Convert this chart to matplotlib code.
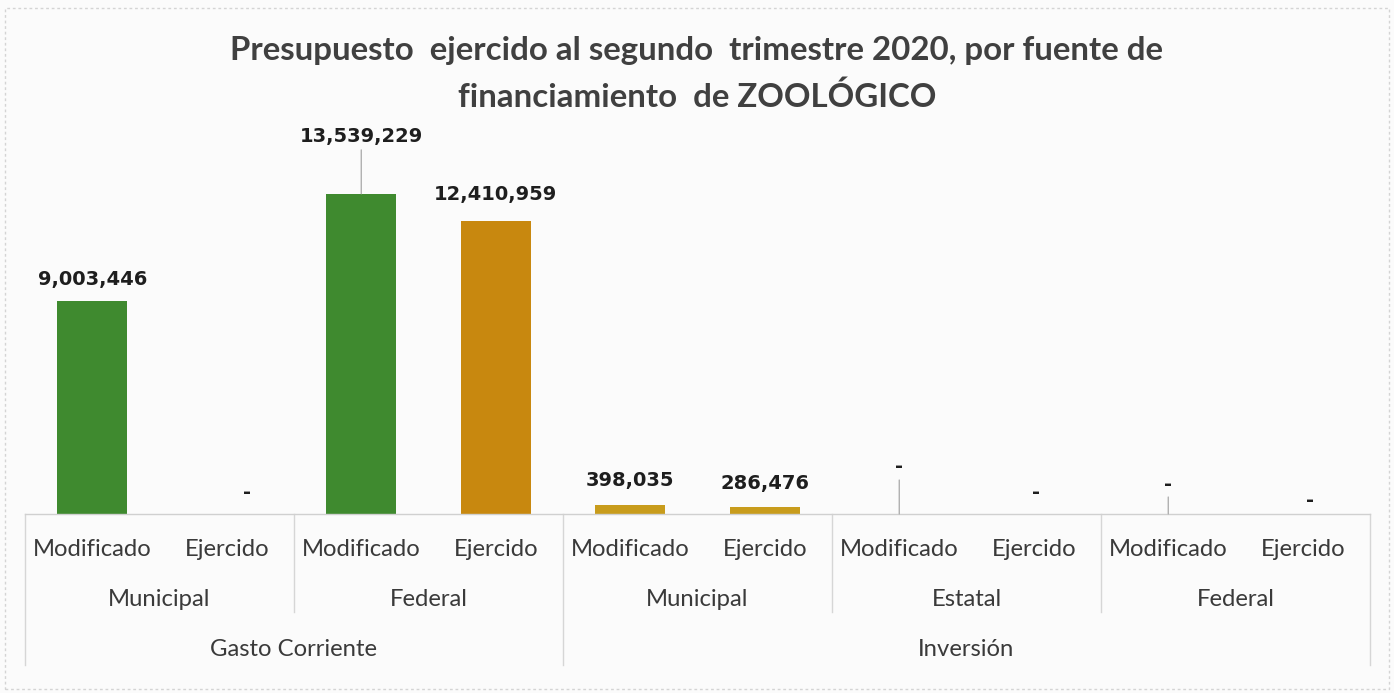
import matplotlib
matplotlib.use("Agg")
import matplotlib.pyplot as plt
from matplotlib.transforms import blended_transform_factory
from matplotlib.patches import Rectangle

# ---- data ----
level1 = ["Modificado", "Ejercido"] * 5
level2 = ["Municipal", "Federal", "Municipal", "Estatal", "Federal"]
level3 = ["Gasto Corriente", "Inversión"]
level2_span = [2, 2, 2, 2, 2]          # categories per level-2 group
level3_span = [2, 3]                   # level-2 groups per level-3 group
values = [9003446, 0, 13539229, 12410959, 398035, 286476, 0, 0, 0, 0]
title = "Presupuesto  ejercido al segundo  trimestre 2020, por fuente de\nfinanciamiento  de ZOOLÓGICO"

# ---- styles ----
GREEN = "#3f8a2f"
ORANGE = "#c8880f"
GOLD = "#c89c1c"
bar_colors = [GREEN, GREEN, GREEN, ORANGE, GOLD, GOLD, GREEN, ORANGE, GREEN, ORANGE]
# label offsets in pixels (dx, dy) relative to bar top
label_offsets = [(0, 22), (20, 22), (0, 57), (0, 26), (0, 24), (0, 24), (0, 47), (2, 22), (0, 30), (7, 14)]
leader = [False, False, True, False, False, False, True, False, True, False]

W, H = 1394, 693
fig = plt.figure(figsize=(W / 100, H / 100), dpi=100)
fig.patch.set_facecolor("#fbfbfb")
fig.patches.append(Rectangle((5 / W, 4 / H), 1 - 10 / W, 1 - 12 / H, transform=fig.transFigure,
                             fill=False, edgecolor="#d4d4d4", lw=1.0, ls=(0, (2, 2))))

ax_left, ax_right = 25 / W, 1370 / W
ax_bottom = (H - 514) / H
ax_h = 383 / H
ax = fig.add_axes([ax_left, ax_bottom, ax_right - ax_left, ax_h])
ax.set_facecolor("none")

n = len(values)
x = list(range(n))
ax.bar(x, values, width=0.52, color=bar_colors, zorder=2)
ax.set_xlim(-0.5, n - 0.5)
ax.set_ylim(0, 383 / 2.3645e-5)
for s in ["top", "right", "left"]:
    ax.spines[s].set_visible(False)
ax.spines["bottom"].set_color("#d0d0d0")
ax.spines["bottom"].set_linewidth(1.0)
ax.set_yticks([])
ax.set_xticks([])

trans = blended_transform_factory(ax.transData, ax.transAxes)
px = 1 / 383.0  # one pixel in axes fraction (vertical)

cat_font = dict(family="Lato", fontsize=17.2, color="#3a3a3a")
# level 1 labels
for i, lab in enumerate(level1):
    ax.text(i, -35 * px, lab, transform=trans, ha="center", va="center", **cat_font)
# level 2 labels
pos = 0
for lab, span in zip(level2, level2_span):
    ax.text(pos + (span - 1) / 2, -85 * px, lab, transform=trans, ha="center", va="center", **cat_font)
    pos += span
# level 3 labels
pos = 0
gi = 0
for lab, gspan in zip(level3, level3_span):
    cats = sum(level2_span[gi:gi + gspan])
    ax.text(pos + (cats - 1) / 2, -135 * px, lab, transform=trans, ha="center", va="center", **cat_font)
    pos += cats
    gi += gspan

# separators
line_kw = dict(color="#d6d6d6", lw=1.0, transform=trans, clip_on=False)
boundaries2 = []
pos = 0
for span in level2_span:
    pos += span
    boundaries2.append(pos - 0.5)
boundaries3 = [-0.5]
pos = 0
gi = 0
for gspan in level3_span:
    pos += sum(level2_span[gi:gi + gspan])
    gi += gspan
    boundaries3.append(pos - 0.5)
for b in boundaries2:
    if b not in boundaries3:
        ax.plot([b, b], [0, -98 * px], **line_kw)
for b in boundaries3:
    ax.plot([b, b], [0, -151 * px], **line_kw)

# data labels
for i, v in enumerate(values):
    txt = f"{v:,}" if v > 0 else "-"
    dx, dy = label_offsets[i]
    ax.annotate(txt, xy=(i, v), xytext=(dx * 0.72, dy * 0.72), textcoords="offset points",
                ha="center", va="center", family="DejaVu Sans", fontweight="bold",
                fontsize=14.0, color="#1e1e1e", zorder=3)
    if leader[i]:
        ax.annotate("", xy=(i, v), xytext=(dx * 0.72, (dy - 13) * 0.72), textcoords="offset points",
                    arrowprops=dict(arrowstyle="-", color="#a8a8a8", lw=0.9, shrinkA=0, shrinkB=0))

fig.text(0.5, (H - 74) / H, title, ha="center", va="center", family="Lato", fontweight="bold",
         fontsize=23.8, color="#404040", linespacing=1.62)

fig.savefig("out.png", dpi=100, facecolor=fig.get_facecolor())
